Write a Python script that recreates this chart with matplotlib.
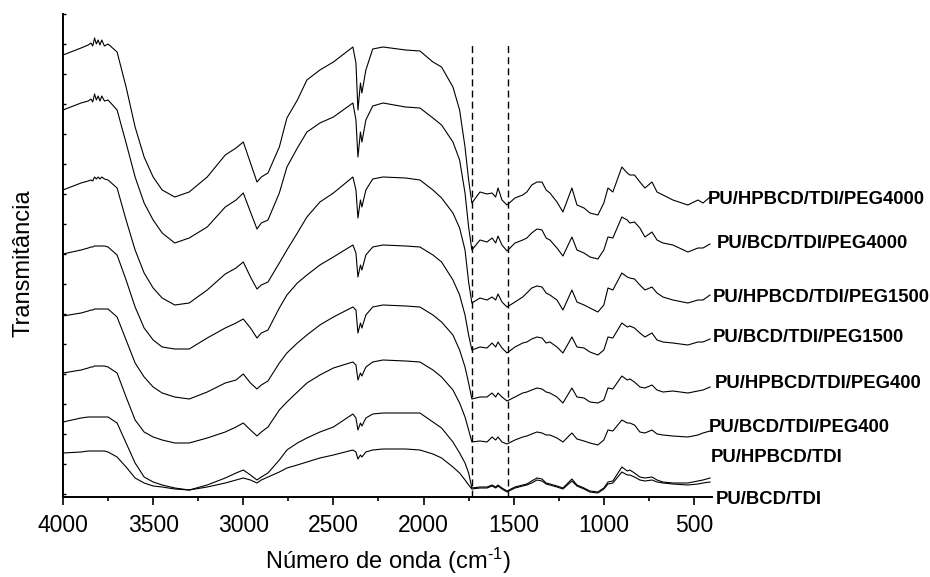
import matplotlib
matplotlib.use("Agg")
import matplotlib.pyplot as plt
import numpy as np

plt.rcParams["font.family"] = ["Liberation Sans", "DejaVu Sans"]
plt.rcParams["mathtext.fontset"] = "custom"
plt.rcParams["mathtext.rm"] = "Liberation Sans"
plt.rcParams["mathtext.default"] = "regular"

wavenumber = [
    4000, 3900, 3860, 3845, 3835, 3825, 3815, 3805, 3795, 3785, 3770, 3750, 3700,
    3650, 3600, 3550, 3500, 3450, 3380, 3300, 3200, 3100, 3040, 3000,
    2960, 2924, 2900, 2863, 2800, 2758, 2700, 2647, 2575, 2500, 2392, 2375, 2364, 2350, 2342, 2320,
    2282, 2225, 2100, 2020, 1948, 1900, 1837, 1800, 1770, 1750,
    1732, 1687, 1648, 1620, 1600, 1587, 1565, 1537, 1493, 1450, 1427, 1400, 1371, 1343, 1320, 1299, 1260, 1227, 1177, 1149,
    1110, 1077, 1033, 1000, 977, 950, 900, 870, 856, 830, 800, 772, 733, 705, 672, 617, 534, 478, 450, 411,
]

# stacked transmittance (arbitrary units, offsets included)
hpbcd_peg4000 = [
    445, 452, 455, 457, 454, 462, 456, 460, 455, 460, 454, 456, 448,
    413, 373, 343, 323, 310, 303, 308, 323, 345, 352, 358,
    337, 318, 323, 327, 353, 382, 400, 420, 430, 438, 453, 437, 390, 417, 407, 430,
    451, 453, 450, 449, 438, 433, 413, 390, 353, 320,
    297, 308, 306, 307, 303, 312, 300, 295, 302, 305, 308, 315, 318, 318, 310, 307, 298, 288, 312, 295,
    292, 287, 285, 297, 312, 308, 333, 327, 325, 325, 318, 312, 318, 308, 305, 300, 295, 300, 297, 303,
]
bcd_peg4000 = [
    390, 397, 399, 401, 398, 406, 400, 404, 399, 404, 399, 400, 390,
    357, 323, 297, 280, 267, 257, 262, 273, 293, 300, 307,
    288, 271, 277, 280, 307, 333, 352, 368, 377, 383, 397, 380, 343, 368, 358, 380,
    394, 397, 393, 392, 382, 375, 358, 340, 307, 273,
    250, 260, 258, 262, 257, 264, 255, 249, 257, 260, 262, 267, 271, 270, 262, 260, 252, 244, 263, 250,
    247, 243, 241, 250, 263, 262, 283, 280, 277, 278, 272, 263, 268, 260, 257, 255, 248, 252, 252, 256,
]
hpbcd_peg1500 = [
    310, 317, 319, 320, 319, 323, 321, 323, 321, 323, 321, 320, 312,
    280, 250, 227, 212, 202, 195, 197, 210, 226, 232, 238,
    223, 211, 215, 218, 237, 250, 267, 283, 298, 307, 323, 310, 282, 300, 293, 310,
    321, 323, 322, 320, 310, 302, 287, 272, 250, 218,
    197, 202, 200, 203, 200, 206, 198, 193, 198, 203, 207, 212, 214, 213, 207, 205, 200, 190, 210, 198,
    195, 192, 188, 195, 212, 210, 227, 223, 222, 221, 215, 210, 213, 207, 203, 200, 197, 200, 200, 205,
]
bcd_peg1500 = [
    246, 250, 252, 253, 253, 254, 254, 254, 254, 254, 254, 253, 245,
    220, 193, 172, 160, 153, 151, 151, 162, 172, 177, 181,
    172, 162, 167, 170, 192, 205, 217, 225, 235, 243, 255, 247, 223, 235, 230, 245,
    253, 255, 254, 253, 245, 238, 220, 205, 185, 165,
    150, 153, 152, 157, 153, 158, 152, 147, 153, 157, 158, 161, 163, 162, 157, 158, 153, 147, 163, 153,
    152, 148, 145, 150, 163, 162, 177, 173, 174, 172, 167, 163, 167, 160, 158, 157, 155, 158, 158, 161,
]
hpbcd_peg400 = [
    184, 187, 189, 190, 190, 191, 191, 191, 191, 191, 191, 191, 183,
    160, 137, 123, 113, 107, 103, 101, 108, 117, 120, 126,
    117, 111, 115, 119, 137, 147, 157, 165, 175, 183, 193, 190, 167, 177, 172, 185,
    193, 195, 194, 193, 185, 178, 165, 150, 133, 117,
    101, 103, 103, 107, 103, 107, 103, 99, 103, 107, 108, 110, 112, 111, 108, 107, 103, 97, 112, 103,
    102, 98, 97, 100, 112, 111, 124, 120, 121, 118, 113, 112, 115, 110, 108, 109, 107, 109, 110, 113,
]
bcd_peg400 = [
    127, 130, 132, 133, 133, 134, 134, 134, 134, 134, 134, 133, 127,
    103, 80, 68, 63, 60, 57, 57, 62, 68, 73, 77,
    70, 64, 68, 73, 90, 98, 108, 117, 125, 132, 138, 135, 120, 127, 124, 133,
    138, 140, 139, 138, 130, 123, 110, 97, 83, 70,
    58, 59, 58, 63, 60, 63, 58, 56, 60, 63, 64, 66, 68, 67, 65, 65, 62, 58, 67, 61,
    59, 57, 55, 60, 70, 69, 80, 77, 77, 75, 68, 67, 70, 66, 65, 64, 63, 65, 67, 69,
]
hpbcd_tdi = [
    78, 82, 83, 83, 83, 83, 83, 83, 83, 83, 83, 83, 77,
    57, 37, 23, 18, 15, 12, 10, 15, 22, 27, 30,
    25, 20, 23, 27, 40, 50, 57, 62, 68, 73, 86, 82, 70, 77, 74, 82,
    86, 87, 87, 87, 78, 72, 58, 47, 37, 27,
    12, 13, 13, 15, 13, 15, 12, 9, 13, 15, 16, 19, 22, 21, 17, 16, 14, 12, 21, 15,
    12, 9, 8, 12, 18, 19, 33, 29, 30, 27, 23, 22, 23, 20, 18, 17, 17, 19, 20, 22,
]
bcd_tdi = [
    47, 48, 49, 49, 49, 49, 49, 49, 49, 49, 49, 48, 43,
    33, 22, 17, 14, 13, 11, 10, 13, 17, 20, 22,
    20, 17, 20, 23, 28, 32, 35, 38, 42, 45, 50, 48, 41, 45, 43, 48,
    50, 51, 51, 50, 46, 42, 33, 27, 20, 15,
    11, 12, 12, 14, 12, 14, 11, 8, 12, 14, 15, 17, 20, 19, 16, 15, 13, 11, 19, 14,
    11, 8, 7, 11, 16, 17, 28, 25, 25, 23, 20, 19, 20, 18, 17, 16, 15, 16, 17, 18,
]

spectra = [hpbcd_peg4000, bcd_peg4000, hpbcd_peg1500, bcd_peg1500,
           hpbcd_peg400, bcd_peg400, hpbcd_tdi, bcd_tdi]
sample_names = ["PU/HPBCD/TDI/PEG4000", "PU/BCD/TDI/PEG4000",
                "PU/HPBCD/TDI/PEG1500", "PU/BCD/TDI/PEG1500",
                "PU/HPBCD/TDI/PEG400", "PU/BCD/TDI/PEG400",
                "PU/HPBCD/TDI", "PU/BCD/TDI"]
marker_lines = [1730, 1530]  # dashed reference bands

# label anchor points in figure pixels (left, centre)
label_px = [(708, 200), (717, 243), (713, 298), (713, 338),
            (715, 383), (709, 427), (711, 457), (716, 500)]

W, H = 930, 577
fig = plt.figure(figsize=(W / 100, H / 100), dpi=100)
ax = fig.add_axes([63 / W, 1 - 497 / H, 649 / W, 483 / H])

for y in spectra:
    ax.plot(wavenumber, y, color="black", lw=0.8)

ax.vlines(marker_lines, 3, 458, colors="black", linestyles=(0, (5, 3)), lw=1.0)

ax.set_xlim(4000, 400)
ax.set_ylim(3, 486)
ax.set_xticks(np.arange(4000, 400, -500))
ax.set_xticks(np.arange(3750, 400, -500), minor=True)
ax.set_yticks(np.arange(6, 487, 30))
ax.set_yticklabels([])

ax.spines["top"].set_visible(False)
ax.spines["right"].set_visible(False)
for s in ("left", "bottom"):
    ax.spines[s].set_linewidth(1.4)

ax.tick_params(axis="x", which="major", direction="out", length=6, width=1.2,
               labelsize=16.5, pad=6)
ax.tick_params(axis="x", which="minor", direction="out", length=3, width=1.2)
ax.tick_params(axis="y", which="major", direction="in", length=2.5, width=1.0)

fig.text(388 / W, 1 - 561 / H, r"Número de onda (cm$^{\text{-}1}$)", fontsize=17,
         ha="center", va="center")
fig.text(23 / W, 1 - 263 / H, "Transmitância", fontsize=17, rotation=90,
         ha="center", va="center")

for name, (px, py) in zip(sample_names, label_px):
    fig.text(px / W, 1 - py / H, name, fontsize=13.3, fontweight="bold",
             ha="left", va="center")

fig.savefig("out.png", dpi=100)
